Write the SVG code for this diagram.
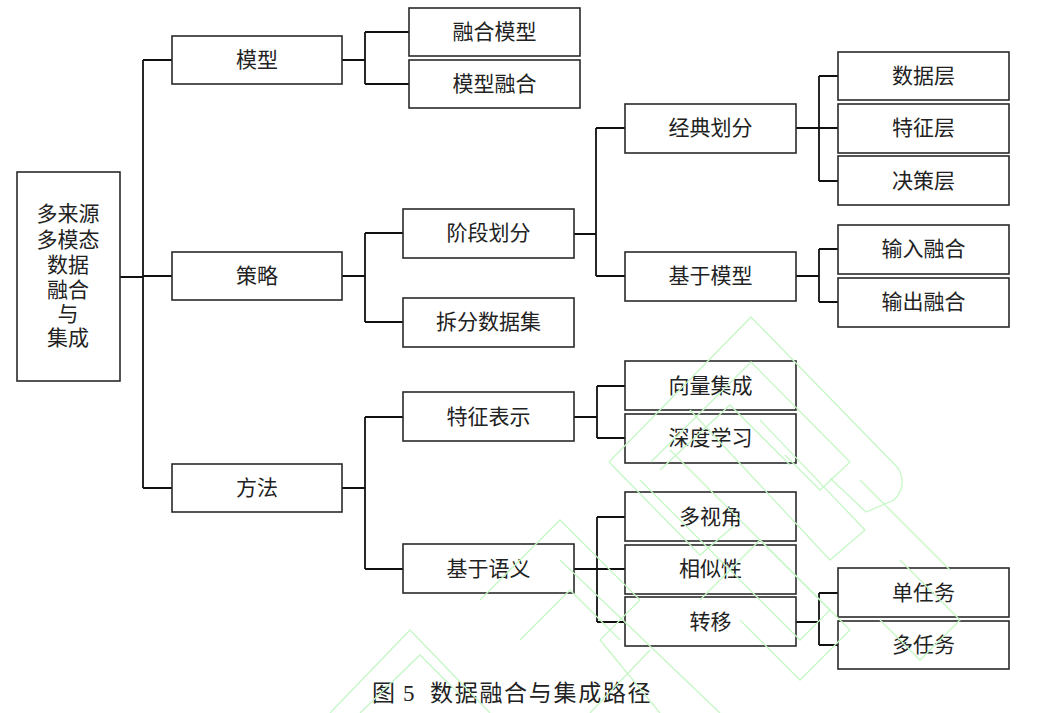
<svg xmlns="http://www.w3.org/2000/svg" width="1038" height="713" viewBox="0 0 1038 713">
<style>
.b{fill:#fff;stroke:#2a2a2a;stroke-width:1.6}
.t{font-family:"Liberation Serif","Noto Sans CJK SC",serif;font-size:21px;fill:#222;text-anchor:middle;dominant-baseline:central}
.c{fill:none;stroke:#111;stroke-width:1.8}
.w{fill:none;stroke:#c6f7c6;stroke-width:1.3}
</style>
<rect width="1038" height="713" fill="#fff"/>
<g id="connectors">
<path class="c" d="M120,277 H143 M143,60 V488 M143,60 H172 M143,276 H172 M143,488 H172"/>
<path class="c" d="M342,60 H365 M365,32 V84 M365,32 H409 M365,84 H409"/>
<path class="c" d="M342,276 H365 M365,233 V322 M365,233 H403 M365,322 H403"/>
<path class="c" d="M574,234 H596 M596,128 V276 M596,128 H625 M596,276 H625"/>
<path class="c" d="M796,128 H819 M819,76 V181 M819,76 H838 M819,128 H838 M819,181 H838"/>
<path class="c" d="M796,276 H819 M819,249 V302 M819,249 H838 M819,302 H838"/>
<path class="c" d="M342,488 H365 M365,417 V569 M365,417 H403 M365,569 H403"/>
<path class="c" d="M574,417 H597 M597,386 V438 M597,386 H625 M597,438 H625"/>
<path class="c" d="M574,569 H597 M597,517 V622 M597,517 H625 M597,569 H625 M597,622 H625"/>
<path class="c" d="M796,622 H819 M819,593 V645 M819,593 H838 M819,645 H838"/>
</g>
<g id="root"><rect class="b" x="17" y="172" width="103" height="209"/>
<text class="t" x="68" y="214">多来源</text><text class="t" x="68" y="240">多模态</text><text class="t" x="68" y="265">数据</text><text class="t" x="68" y="290">融合</text><text class="t" x="68" y="314">与</text><text class="t" x="68" y="338">集成</text></g>
<g id="n-moxing"><rect class="b" x="172" y="36" width="170" height="48"/><text class="t" x="257" y="60">模型</text></g>
<g id="n-celue"><rect class="b" x="172" y="252" width="170" height="48"/><text class="t" x="257" y="276">策略</text></g>
<g id="n-fangfa"><rect class="b" x="172" y="464" width="170" height="48"/><text class="t" x="257" y="488">方法</text></g>
<g id="n-rhmx"><rect class="b" x="409" y="8" width="171" height="48"/><text class="t" x="494.5" y="32">融合模型</text></g>
<g id="n-mxrh"><rect class="b" x="409" y="60" width="171" height="48"/><text class="t" x="494.5" y="84">模型融合</text></g>
<g id="n-jdhf"><rect class="b" x="403" y="209" width="171" height="49"/><text class="t" x="488.5" y="233">阶段划分</text></g>
<g id="n-cfsjj"><rect class="b" x="403" y="298" width="171" height="49"/><text class="t" x="488.5" y="322">拆分数据集</text></g>
<g id="n-jdhf2"><rect class="b" x="625" y="104" width="171" height="49"/><text class="t" x="710.5" y="128">经典划分</text></g>
<g id="n-jymx"><rect class="b" x="625" y="252" width="171" height="49"/><text class="t" x="710.5" y="276">基于模型</text></g>
<g id="n-sjc"><rect class="b" x="838" y="52" width="171" height="48"/><text class="t" x="923.5" y="76">数据层</text></g>
<g id="n-tzc"><rect class="b" x="838" y="104" width="171" height="49"/><text class="t" x="923.5" y="128">特征层</text></g>
<g id="n-jcc"><rect class="b" x="838" y="156" width="171" height="49"/><text class="t" x="923.5" y="181">决策层</text></g>
<g id="n-srrh"><rect class="b" x="838" y="225" width="171" height="49"/><text class="t" x="923.5" y="249">输入融合</text></g>
<g id="n-scrh"><rect class="b" x="838" y="278" width="171" height="49"/><text class="t" x="923.5" y="302">输出融合</text></g>
<g id="n-tzbs"><rect class="b" x="403" y="392" width="171" height="49"/><text class="t" x="488.5" y="417">特征表示</text></g>
<g id="n-jyyy"><rect class="b" x="403" y="544" width="171" height="49"/><text class="t" x="488.5" y="569">基于语义</text></g>
<g id="n-xljc"><rect class="b" x="625" y="361" width="171" height="49"/><text class="t" x="710.5" y="386">向量集成</text></g>
<g id="n-sdxx"><rect class="b" x="625" y="414" width="171" height="49"/><text class="t" x="710.5" y="438">深度学习</text></g>
<g id="n-dsj"><rect class="b" x="625" y="492" width="171" height="49"/><text class="t" x="710.5" y="517">多视角</text></g>
<g id="n-xsx"><rect class="b" x="625" y="545" width="171" height="49"/><text class="t" x="710.5" y="569">相似性</text></g>
<g id="n-zy"><rect class="b" x="625" y="597" width="171" height="49"/><text class="t" x="710.5" y="622">转移</text></g>
<g id="n-drw"><rect class="b" x="838" y="568" width="171" height="49"/><text class="t" x="923.5" y="593">单任务</text></g>
<g id="n-drw2"><rect class="b" x="838" y="621" width="171" height="48"/><text class="t" x="923.5" y="645">多任务</text></g>
<g id="caption"><text style="font-family:'Liberation Serif','Noto Sans CJK SC',serif;font-size:23px;fill:#222;dominant-baseline:central" y="693"><tspan x="372">图</tspan><tspan x="403">5</tspan><tspan x="430" letter-spacing="1.7">数据融合与集成路径</tspan></text></g>
<g id="watermark">
<path class="w" d="M609,462 L751,317 L898,468 Q908,486 894,500 L866,512 L830,478"/>
<path class="w" d="M651,462 L751,362 L850,462 L820,490 L785,455"/>
<path class="w" d="M660,470 L730,405 L790,465"/>
<path class="w" d="M609,462 L700,555 L735,525"/>
<path class="w" d="M690,410 L830,560 L865,530 L760,420"/>
<path class="w" d="M640,480 L800,640 L830,610 L670,450"/>
<path class="w" d="M560,560 L720,713"/>
<path class="w" d="M480,600 L560,520 L640,600 L600,640 L660,713"/>
<path class="w" d="M520,640 L570,590 L620,640"/>
<path class="w" d="M330,713 L410,630 L490,713"/>
<path class="w" d="M360,713 L420,655 L460,695"/>
<path class="w" d="M900,560 L960,620 L920,660 L880,620"/>
<path class="w" d="M860,480 L950,570"/>
<path class="w" d="M700,600 L760,540 L850,630 L800,680 L740,620"/>
<path class="w" d="M590,713 L650,650"/>
</g>
</svg>
